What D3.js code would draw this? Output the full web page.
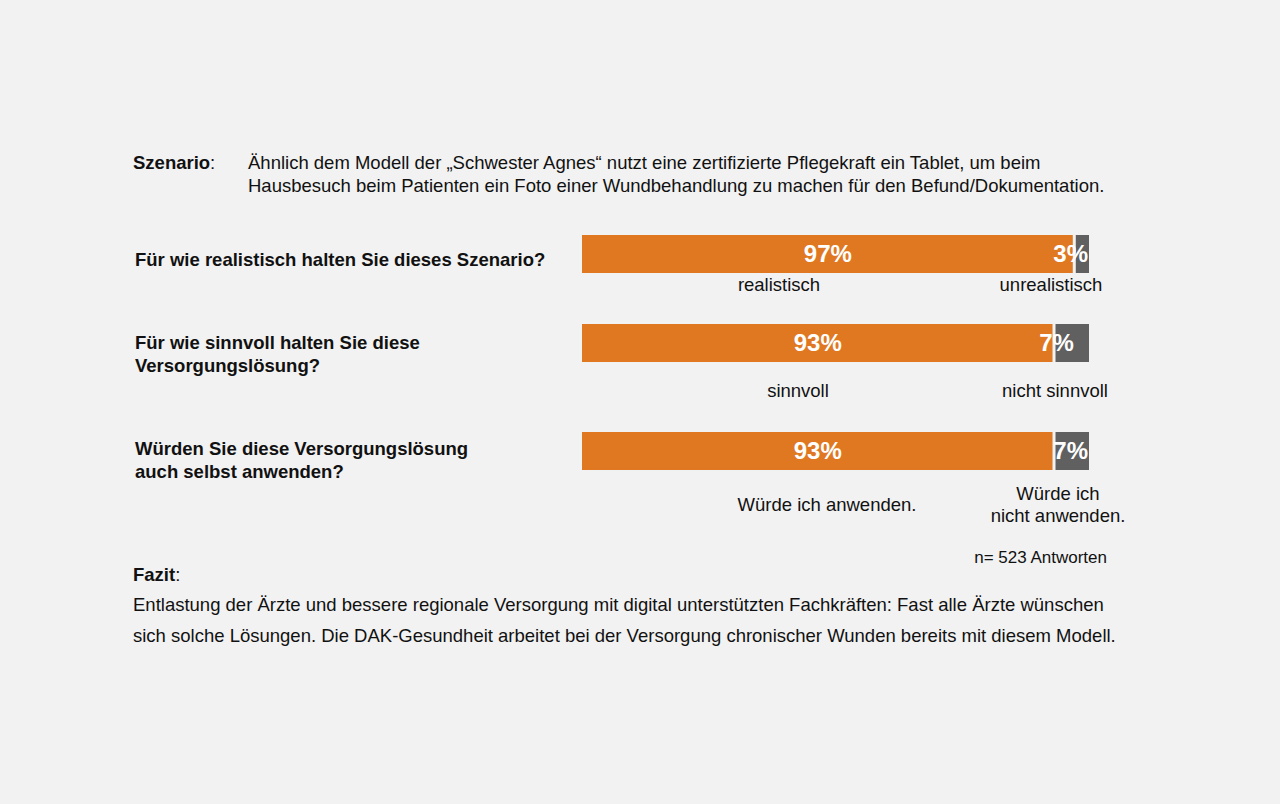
<!DOCTYPE html>
<html>
<head>
<meta charset="utf-8">
<script src="https://cdn.jsdelivr.net/npm/d3@7"></script>
<style>
  body { margin: 0; background: #f2f2f2; }
  text { font-family: "Liberation Sans", Arial, sans-serif; }
</style>
</head>
<body>
<script>
var questions = [
    ["Für wie realistisch halten Sie dieses Szenario?"],
    ["Für wie sinnvoll halten Sie diese", "Versorgungslösung?"],
    ["Würden Sie diese Versorgungslösung", "auch selbst anwenden?"]
];
var yesValues = [97, 93, 93];
var noValues = [3, 7, 7];
var yesLabels = [["realistisch"], ["sinnvoll"], ["Würde ich anwenden."]];
var noLabels = [["unrealistisch"], ["nicht sinnvoll"], ["Würde ich", "nicht anwenden."]];

var scenarioLines = [
    "Ähnlich dem Modell der „Schwester Agnes“ nutzt eine zertifizierte Pflegekraft ein Tablet, um beim",
    "Hausbesuch beim Patienten ein Foto einer Wundbehandlung zu machen für den Befund/Dokumentation."
];
var fazitLines = [
    "Entlastung der Ärzte und bessere regionale Versorgung mit digital unterstützten Fachkräften: Fast alle Ärzte wünschen",
    "sich solche Lösungen. Die DAK-Gesundheit arbeitet bei der Versorgung chronischer Wunden bereits mit diesem Modell."
];
var sampleNote = "n= 523 Antworten";

var width = 1280, height = 804;
var orange = "#e07822", grey = "#606060";
var fs = 18.5;
var barHeight = 38;
var barTops = [235, 324, 432];
var questionTops = [266, 349, 455];
var labelTops = [291, 397, 511];
var yesLabelX = [779, 798, 827];
var noLabelX = [1051, 1055, 1058];

var svg = d3.select("body").append("svg")
    .attr("width", width)
    .attr("height", height);

svg.append("rect").attr("width", width).attr("height", height).attr("fill", "#f2f2f2");

var x = d3.scaleLinear().domain([0, 100]).range([582, 1089]);
var y = d3.scaleOrdinal().domain(d3.range(3)).range(barTops);

// scenario header
svg.append("text").attr("x", 133).attr("y", 169)
    .attr("font-size", fs).attr("fill", "#111")
    .call(function(t) {
        t.append("tspan").attr("font-weight", "bold").text("Szenario");
        t.append("tspan").text(":");
    });
svg.selectAll(".scen").data(scenarioLines).enter().append("text")
    .attr("x", 248).attr("y", function(d, i) { return 169 + i * 23; })
    .attr("font-size", fs).attr("fill", "#111")
    .text(function(d) { return d; });

var rows = svg.selectAll(".row").data(questions).enter().append("g").attr("class", "row");

rows.each(function(q, i) {
    var g = d3.select(this);
    g.selectAll(".q").data(q).enter().append("text")
        .attr("x", 135).attr("y", function(d, j) { return questionTops[i] + j * 23; })
        .attr("font-size", fs).attr("font-weight", "bold").attr("fill", "#111")
        .text(function(d) { return d; });

    g.append("rect")
        .attr("x", x(yesValues[i]) + 2).attr("y", y(i))
        .attr("width", x(100) - x(yesValues[i]) - 2).attr("height", barHeight)
        .attr("fill", grey);
    g.append("rect")
        .attr("x", x(0)).attr("y", y(i))
        .attr("width", x(yesValues[i]) - x(0) - 1).attr("height", barHeight)
        .attr("fill", orange);
    g.append("text")
        .attr("x", (x(0) + x(yesValues[i])) / 2).attr("y", y(i) + barHeight / 2 + 8)
        .attr("text-anchor", "middle").attr("font-size", 24).attr("font-weight", "bold")
        .attr("fill", "#fff").text(yesValues[i] + "%");
    // second row's small label sits across the split in the original
    g.append("text")
        .attr("x", i === 1 ? x(yesValues[i]) + 3 : x(100) - 1)
        .attr("y", y(i) + barHeight / 2 + 8)
        .attr("text-anchor", i === 1 ? "middle" : "end")
        .attr("font-size", 24).attr("font-weight", "bold")
        .attr("fill", "#fff").text(noValues[i] + "%");

    g.selectAll(".yl").data(yesLabels[i]).enter().append("text")
        .attr("x", yesLabelX[i])
        .attr("y", function(d, j) { return labelTops[i] + j * 22; })
        .attr("text-anchor", "middle").attr("font-size", fs).attr("fill", "#111")
        .text(function(d) { return d; });
    var nl = noLabels[i];
    g.selectAll(".nl").data(nl).enter().append("text")
        .attr("x", noLabelX[i])
        .attr("y", function(d, j) { return labelTops[i] + (j - (nl.length - 1) / 2) * 22; })
        .attr("text-anchor", "middle").attr("font-size", fs).attr("fill", "#111")
        .text(function(d) { return d; });
});

svg.append("text").attr("x", 1107).attr("y", 563)
    .attr("text-anchor", "end").attr("font-size", 17).attr("fill", "#111")
    .text(sampleNote);

svg.append("text").attr("x", 133).attr("y", 581)
    .attr("font-size", fs).attr("fill", "#111")
    .call(function(t) {
        t.append("tspan").attr("font-weight", "bold").text("Fazit");
        t.append("tspan").text(":");
    });
svg.selectAll(".fazit").data(fazitLines).enter().append("text")
    .attr("x", 133).attr("y", function(d, i) { return 611 + i * 31; })
    .attr("font-size", fs).attr("fill", "#111")
    .text(function(d) { return d; });
</script>
</body>
</html>
